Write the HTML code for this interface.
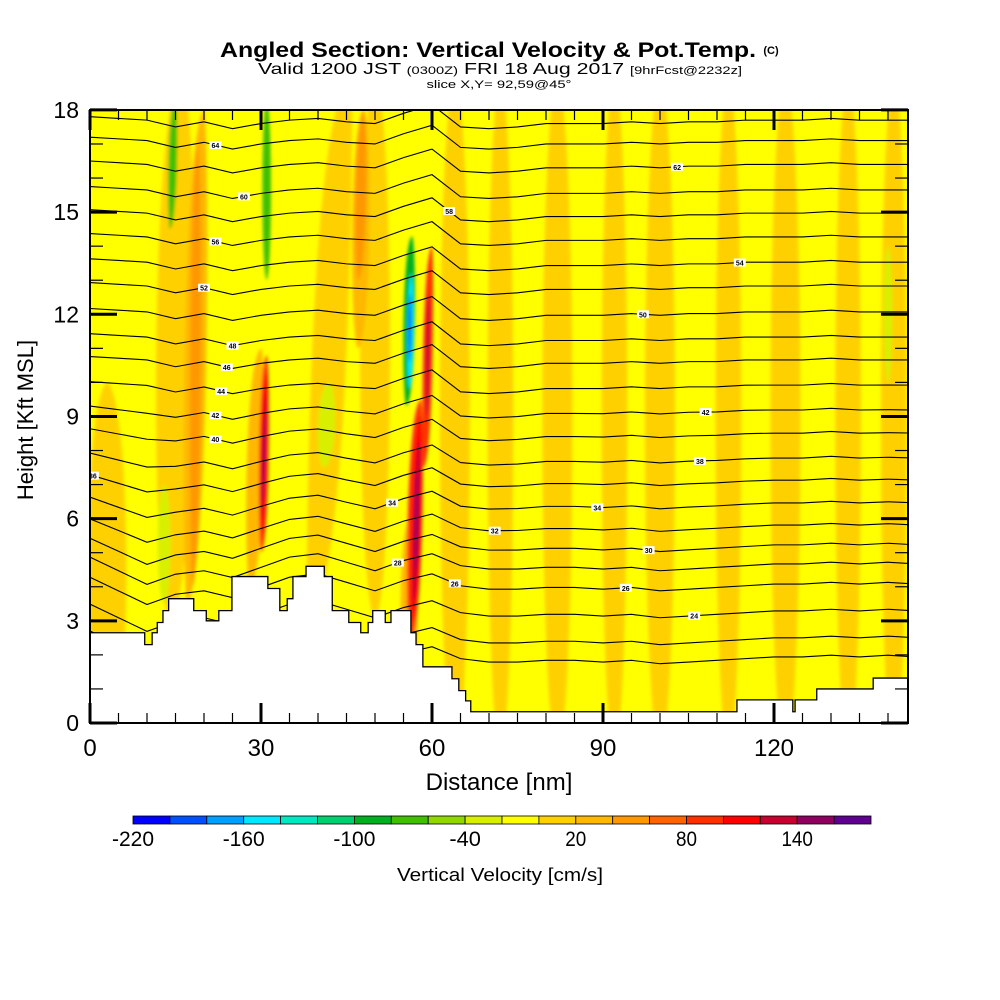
<!DOCTYPE html>
<html><head><meta charset="utf-8"><style>
html,body{margin:0;padding:0;background:#fff;}
svg{display:block;font-family:"Liberation Sans",sans-serif;}
</style></head><body>
<svg id="chart" width="1000" height="1000" viewBox="0 0 1000 1000">
<defs>
<clipPath id="plotclip"><rect x="90" y="110" width="818" height="613"/></clipPath>
<filter id="soft" x="-20%" y="-20%" width="140%" height="140%"><feGaussianBlur stdDeviation="1.6"/></filter>
</defs>
<g>
<text x="488" y="57" text-anchor="middle" font-size="21" font-weight="bold" textLength="536" lengthAdjust="spacingAndGlyphs">Angled Section: Vertical Velocity &amp; Pot.Temp.</text>
<text x="771" y="54" text-anchor="middle" font-size="11" font-weight="bold">(C)</text>
<text x="500" y="74" text-anchor="middle" font-size="16" textLength="484" lengthAdjust="spacingAndGlyphs">Valid 1200 JST <tspan font-size="11">(0300Z)</tspan> FRI 18 Aug 2017 <tspan font-size="11">[9hrFcst@2232z]</tspan></text>
<text x="499" y="88" text-anchor="middle" font-size="11" textLength="145" lengthAdjust="spacingAndGlyphs">slice X,Y= 92,59@45°</text>
</g>
<rect x="90" y="110" width="818" height="613" fill="#ffff00"/>
<g id="field" clip-path="url(#plotclip)"><g id="fieldInner" filter="url(#soft)"></g></g>
<g id="contours" clip-path="url(#plotclip)"></g>
<g id="terrainG"></g>
<g id="labelsG" clip-path="url(#plotclip)"></g>
<rect x="90" y="110" width="818" height="613" fill="none" stroke="#000" stroke-width="2"/>
<g id="axes"></g>
<text x="499" y="790" text-anchor="middle" font-size="24">Distance [nm]</text>
<text transform="translate(33,420) rotate(-90)" text-anchor="middle" font-size="22">Height [Kft MSL]</text>
<g id="colorbar"></g>
<text x="500" y="881" text-anchor="middle" font-size="18" textLength="206" lengthAdjust="spacingAndGlyphs">Vertical Velocity [cm/s]</text>
</svg>
<script>
// ---- data ----
const xTicks = [0, 30, 60, 90, 120];
const yTicks = [0, 3, 6, 9, 12, 15, 18];
const cbEdges = [-220,-200,-180,-160,-140,-120,-100,-80,-60,-40,-20,0,20,40,60,80,100,120,140,160,180];
const cbColors = ["#0000ff","#0050ff","#00a0ff","#00e8ff","#00e8c0","#00d070","#00b020","#40c000","#90d800","#d8f000","#ffff00","#ffd000","#ffb800","#ff9800","#ff6400","#ff3000","#ff0000","#c80030","#900060","#600090"];
const cbLabels = [-220,-160,-100,-40,20,80,140];
// streaks of vertical velocity (nm, kft, cm/s)
const streakXBot = [3,14,38,50,64,72,82,92,100,112,122,133,141, 17,28,47,56, 18,47, 13,14,31,41,140, 30,30,30,30, 55.5,56,56, 56,56.5,56.6,57, 58.5,59];
const streakXTop = [3,16,46,50,64,72,82,92,100,112,122,133,141, 20,30,48,56, 19,48, 13,15,31,42,140, 31,31,31,31, 56.5,56.4,56.2, 58,58,58,57.3, 60,59.5];
const streakBot  = [-1,3,3,3,-1,-1,-1,-1,-1,-1,-1,-1,-1, 3.5,4,11,0.5, 4,13, 3.5,14.5,13,7.5,10, 5,5.5,6,6.5, 9.3,9.8,10.6, 2.3,3,3.5,4.5, 7.5,9];
const streakTop  = [10,19,19,19,19,19,19,19,19,19,19,19,19, 18,11,18,6, 17,18, 7,18.3,18.3,10,14, 10.8,10.3,9.7,9, 14.3,13.2,12.6, 9.5,9,8.3,7.5, 14,12.6];
const streakW    = [9,9,8,7,7,6,7,6,7,6,7,6,6, 5,4,4,4, 2.5,2.5, 3,2,2,4,2, 2.2,1.4,0.8,0.4, 2.6,1.5,0.6, 3.4,2.2,1.4,0.6, 2.2,0.9];
const streakVal  = [10,10,10,10,10,10,10,10,10,10,10,10,10, 30,30,30,30, 50,50, -30,-70,-70,-30,-30, 90,110,130,150, -90,-150,-210, 90,110,130,150, 90,130];
// terrain height profile (nm, kft) as step outline
const terrainNm  = [0,9.6,9.6,10.9,10.9,11.8,11.8,12.8,12.8,13.8,13.8,18.2,18.2,20.4,20.4,22.6,22.6,24.9,24.9,31.2,31.2,33.3,33.3,34.6,34.6,35.6,35.6,37.9,37.9,41.1,41.1,42.5,42.5,45.4,45.4,47.5,47.5,48.8,48.8,49.6,49.6,51.8,51.8,52.8,52.8,56.3,56.3,57.2,57.2,58.4,58.4,63.5,63.5,64.7,64.7,65.9,65.9,66.8,66.8,113.5,113.5,123.3,123.3,123.7,123.7,127.5,127.5,137.4,137.4,143.5];
const terrainKft = [2.65,2.65,2.3,2.3,2.65,2.65,2.95,2.95,3.3,3.3,3.65,3.65,3.3,3.3,3.0,3.0,3.3,3.3,4.3,4.3,3.95,3.95,3.3,3.3,3.65,3.65,4.3,4.3,4.6,4.6,4.3,4.3,3.3,3.3,2.95,2.95,2.65,2.65,2.95,2.95,3.3,3.3,2.95,2.95,3.3,3.3,2.65,2.65,2.3,2.3,1.65,1.65,1.3,1.3,0.95,0.95,0.65,0.65,0.33,0.33,0.68,0.68,0.33,0.33,0.68,0.68,1.0,1.0,1.32,1.32];
// potential temperature contours
const contourNodes = [0,5,10,15,20,25,30,35,40,45,50,55,60,65,70,75,80,85,90,95,100,105,110,115,120,125,130,135,140,145];
const pertLow = [0.2,-0.2,-0.6,-0.3,-0.2,-0.4,-0.1,0.2,0.3,0.05,-0.2,0.1,0.3,-0.05,-0.15,-0.15,-0.1,-0.1,-0.15,-0.1,-0.2,-0.15,-0.1,-0.05,0,0,0.05,0,0.05,0];
const pertHigh = [0.1,0.05,0,-0.2,-0.05,-0.25,-0.1,0,0.05,-0.05,-0.1,0.2,0.45,-0.2,-0.25,-0.2,-0.1,-0.1,-0.1,-0.05,-0.1,-0.05,-0.05,0,0,0,0.05,0,0,0];
const contourBase = [17.7,17.1,16.4,15.65,14.97,14.27,13.53,12.83,12.07,11.33,10.66,9.92,9.19,8.51,7.78,7.13,6.46,5.81,5.23,4.67,4.08,3.29,2.5,1.94];
const contourValues = [66,64,62,60,58,56,54,52,50,48,46,44,42,40,38,36,34,32,30,28,26,24,22,20];
const labelLevel = [1,3,5,7,9,10,11,12,13,15,16,17,19,20,21, 2,4,6,8,12,14,16,18,20];
const labelNm    = [22,27,22,20,25,24,23,22,22,0.5,53,71,54,94,106, 103,63,114,97,108,107,89,98,64];

// ---- scales ----
const X = nm => 90 + nm * 5.7;
const Y = k => 723 - k * 34.06;
const NS = "http://www.w3.org/2000/svg";
function mk(tag, attrs, parent){ const e=document.createElementNS(NS,tag); for(const k in attrs) e.setAttribute(k,attrs[k]); parent.appendChild(e); return e; }
function colorFor(v){ let i=cbEdges.findIndex((e,j)=>v>=e && v<cbEdges[j+1]); if(i<0) i=v<cbEdges[0]?0:cbColors.length-1; return cbColors[i]; }

// field streaks (lens shapes)
const fieldInner = document.getElementById('fieldInner');
for (let i=0;i<streakXBot.length;i++){
  const xb=streakXBot[i], xt=streakXTop[i], hb=streakBot[i], ht=streakTop[i], w=streakW[i];
  const xm=(xb+xt)/2;
  const d=`M${X(xb)},${Y(hb)} C${X(xm+w/2)},${Y(hb+(ht-hb)*0.05)} ${X(xm+w/2)},${Y(ht-(ht-hb)*0.05)} ${X(xt)},${Y(ht)} C${X(xm-w/2)},${Y(ht-(ht-hb)*0.05)} ${X(xm-w/2)},${Y(hb+(ht-hb)*0.05)} ${X(xb)},${Y(hb)} Z`;
  const p=mk('path',{d:d,fill:colorFor(streakVal[i])},fieldInner);
  
  
}

// contours
const cg=document.getElementById('contours');
const linePts=[];
for (let l=0;l<contourBase.length;l++){
  const h=contourBase[l];
  const wgt=Math.max(0,Math.min(1,(h-5)/5));
  const pts=contourNodes.map((nm,j)=>[X(nm), Y(h + wgt*pertHigh[j] + (1-wgt)*pertLow[j])]);
  linePts.push(pts);
  const p=mk('polyline',{points:pts.map(p=>p.join(',')).join(' '),fill:'none',stroke:'#000','stroke-width':1.1},cg);
  
  
}

// terrain
const tg=document.getElementById('terrainG');
let td=`M${X(terrainNm[0])},723 `+terrainNm.map((nm,i)=>`L${X(nm)},${Y(terrainKft[i])}`).join(' ')+` L908,${Y(terrainKft[terrainKft.length-1])} L908,723 Z`;
const tp=mk('path',{d:td,fill:'#fff',stroke:'#000','stroke-width':1.3},tg);



// contour labels
const lg=document.getElementById('labelsG');
for (let i=0;i<labelLevel.length;i++){
  const l=labelLevel[i], nm=labelNm[i];
  const j=Math.min(contourNodes.length-2,Math.floor(nm/5)), f=(nm-contourNodes[j])/5;
  const a=linePts[l][j], b=linePts[l][j+1];
  const x=a[0]+(b[0]-a[0])*f, y=a[1]+(b[1]-a[1])*f;
  const r=mk('rect',{x:x-6,y:y-4,width:12,height:8,fill:'#fff'},lg);
  
  
  const t=mk('text',{x:x,y:y+3,'text-anchor':'middle','font-size':7,'font-weight':'bold'},lg);
  
  
  t.textContent=contourValues[l];
}

// axes ticks
const ax=document.getElementById('axes');
for (let k=0;k<=18;k++){
  const y=Y(k), major=k%3===0, len=major?27:13, sw=major?3:1.2;
  const a=mk('line',{x1:90,y1:y,x2:90+len,y2:y,stroke:'#000','stroke-width':sw},ax);
   
  const b=mk('line',{x1:908,y1:y,x2:908-len,y2:y,stroke:'#000','stroke-width':sw},ax);
   
}
yTicks.forEach(v=>{
  const t=mk('text',{x:79,y:Y(v)+8,'text-anchor':'end','font-size':23},ax);
   
  t.textContent=v;
});
for (let nm=0;nm<=140;nm+=5){
  const x=X(nm), major=nm%30===0, len=major?20:10, sw=major?3:1.2;
  const a=mk('line',{x1:x,y1:723,x2:x,y2:723-len,stroke:'#000','stroke-width':sw},ax);
   
  const b=mk('line',{x1:x,y1:110,x2:x,y2:110+len,stroke:'#000','stroke-width':sw},ax);
   
}
xTicks.forEach(v=>{
  const t=mk('text',{x:X(v),y:756,'text-anchor':'middle','font-size':24},ax);
   
  t.textContent=v;
});

// colorbar
const cb=document.getElementById('colorbar');
const cbX0=133, cbX1=871, cbW=(cbX1-cbX0)/cbColors.length;
cbColors.forEach((c,i)=>{
  const r=mk('rect',{x:cbX0+i*cbW,y:816,width:cbW,height:8,fill:c,stroke:'#000','stroke-width':0.8},cb);
   
});
cbLabels.forEach(v=>{
  const i=cbEdges.indexOf(v);
  const t=mk('text',{x:cbX0+i*cbW,y:846,'text-anchor':'middle','font-size':21,textLength:String(v).length*10.5,lengthAdjust:'spacingAndGlyphs'},cb);
   
  t.textContent=v;
});
</script>
</body></html>
